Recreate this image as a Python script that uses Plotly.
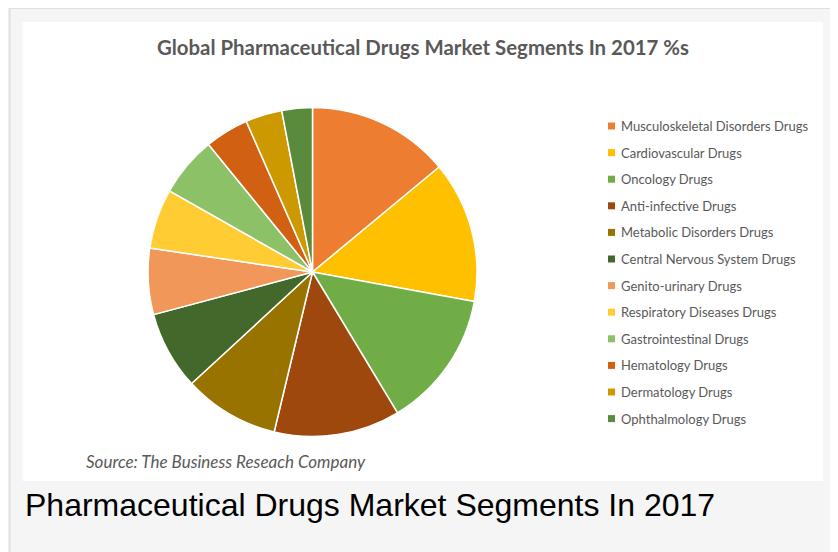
import plotly.graph_objects as go

# The page body has an 8px margin, so the figure is sized to fill the rest of the window
OFF = 8
W, H = 838 - OFF, 552 - OFF

segments = [
    "Musculoskeletal Disorders Drugs",
    "Cardiovascular Drugs",
    "Oncology Drugs",
    "Anti-infective Drugs",
    "Metabolic Disorders Drugs",
    "Central Nervous System Drugs",
    "Genito-urinary Drugs",
    "Respiratory Diseases Drugs",
    "Gastrointestinal Drugs",
    "Hematology Drugs",
    "Dermatology Drugs",
    "Ophthalmology Drugs",
]
shares = [14.0, 13.9, 13.5, 12.4, 9.4, 7.7, 6.5, 5.9, 5.9, 4.3, 3.6, 3.0]
colors = [
    "#ED7D31", "#FFC000", "#70AD47", "#9E480E", "#997300", "#43682B",
    "#F1975A", "#FFCD33", "#8CC168", "#D26012", "#CC9A00", "#5A8A3C",
]

title_text = "Global Pharmaceutical Drugs Market Segments In 2017 %s"
source_text = "Source: The Business Reseach Company"
caption_text = "Pharmaceutical Drugs Market Segments In 2017"


def px(x):
    return (x - OFF) / W


def py(y):
    return 1 - (y - OFF) / H


cx, cy, r = 312.5, 272.0, 164.5

fig = go.Figure(
    go.Pie(
        labels=segments,
        values=shares,
        sort=False,
        direction="clockwise",
        rotation=0,
        marker=dict(colors=colors, line=dict(color="white", width=1.5)),
        textinfo="none",
        showlegend=False,
        domain=dict(x=[px(cx - r), px(cx + r)], y=[py(cy + r), py(cy - r)]),
    )
)

shapes = [
    dict(type="rect", xref="paper", yref="paper", x0=px(9.5), x1=px(836), y0=-0.05, y1=py(8),
         fillcolor="#f5f5f5", line=dict(color="#e0e0e0", width=2), layer="below"),
    dict(type="rect", xref="paper", yref="paper", x0=px(22.5), x1=px(823), y0=py(481), y1=py(22),
         fillcolor="white", line=dict(width=0), layer="below"),
]

annotations = [
    dict(text="<b>" + title_text + "</b>", x=px(423), y=py(47), xref="paper", yref="paper",
         xanchor="center", yanchor="middle", showarrow=False,
         font=dict(family="Lato", size=20.4, color="#595959")),
    dict(text=source_text, x=px(84), y=py(461), xref="paper", yref="paper",
         xanchor="left", yanchor="middle", showarrow=False,
         font=dict(family="Lato", size=17, color="#595959", style="italic")),
    dict(text=caption_text, x=px(22.5), y=py(505), xref="paper", yref="paper",
         xanchor="left", yanchor="middle", showarrow=False,
         font=dict(family="Liberation Sans, Arial", size=32, color="#000000")),
]

# legend (built from the data lists)
leg_top, leg_step = 126.0, 26.6
for i, (lab, col) in enumerate(zip(segments, colors)):
    yc = leg_top + i * leg_step
    shapes.append(dict(type="rect", xref="paper", yref="paper",
                       x0=px(608), x1=px(615), y0=py(yc + 3.5), y1=py(yc - 3.5),
                       fillcolor=col, line=dict(width=0)))
    annotations.append(dict(text=lab, x=px(618.5), y=py(yc), xref="paper", yref="paper",
                            xanchor="left", yanchor="middle", showarrow=False,
                            font=dict(family="Lato", size=13, color="#595959")))

fig.update_layout(
    width=W, height=H,
    margin=dict(l=0, r=0, t=0, b=0),
    paper_bgcolor="white",
    plot_bgcolor="white",
    shapes=shapes,
    annotations=annotations,
    showlegend=False,
)

fig.write_html("out.html")
